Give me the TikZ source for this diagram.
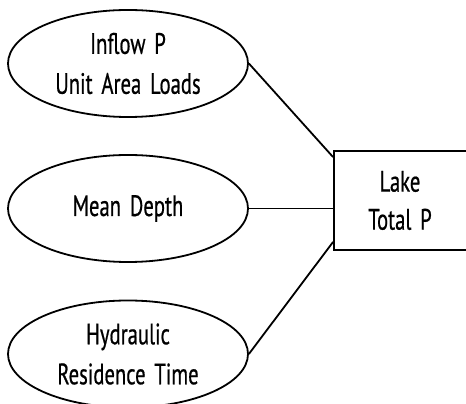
\documentclass[tikz,border=0pt]{standalone}
\usepackage{fontspec}
\newfontfamily\labelfont[FakeStretch=0.7, FakeBold=0.6, WordSpace=1.6]{PT Sans}
\usetikzlibrary{shapes.geometric}

\begin{document}
\begin{tikzpicture}[x=1pt, y=1pt,
    factor/.style={ellipse, draw, line width=1.8pt, minimum width=240pt, minimum height=107pt, inner sep=0pt, align=center, font=\labelfont\fontsize{29.5}{40}\selectfont},
    result/.style={rectangle, draw, line width=1.8pt, minimum width=172pt, minimum height=99pt, inner sep=0pt, align=center, font=\labelfont\fontsize{29.5}{38}\selectfont}]
    \useasboundingbox (0,0) rectangle (466,404);
    \node[factor] (inflow) at (128,340.5) {Inflow P\\Unit Area Loads};
    \node[factor] (depth) at (128,195.5) {Mean Depth};
    \node[factor] (residence) at (128,50) {Hydraulic\\Residence Time};
    % box runs past the right edge of the page
    \node[result] (lake) at (420,203.5) {\hspace*{-40pt}Lake\\\hspace*{-40pt}Total P};
    % links into the lake box
    \draw[line width=1.8pt] (inflow.east) -- ([yshift=-7pt]lake.north west);
    \draw[line width=1.8pt] (depth.east) -- (depth.east -| lake.west);
    \draw[line width=1.8pt] (residence.east) -- ([yshift=9pt]lake.south west);
\end{tikzpicture}
\end{document}
